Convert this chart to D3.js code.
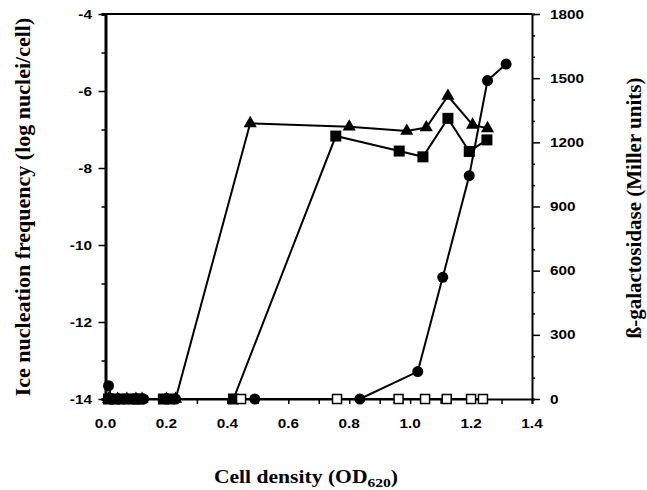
<!DOCTYPE html>
<html><head><meta charset="utf-8">
<script src="https://cdn.jsdelivr.net/npm/d3@7"></script>
<style>body{margin:0;background:#fff}</style>
</head><body>
<svg id="c" width="647" height="490"></svg>
<script>
// Ice nucleation frequency (left axis, log nuclei/cell)
const triX = [0.01,0.04,0.07,0.10,0.12,0.20,0.23,0.475,0.80,0.989,1.053,1.124,1.205,1.254];
const triY = [-14,-14,-14,-14,-14,-14,-14,-6.84,-6.93,-7.04,-6.95,-6.13,-6.88,-6.97];
const sqX  = [0.01,0.03,0.06,0.09,0.11,0.19,0.21,0.42,0.756,0.964,1.042,1.124,1.194,1.252];
const sqY  = [-14,-14,-14,-14,-14,-14,-14,-14,-7.17,-7.56,-7.71,-6.71,-7.57,-7.27];
// beta-galactosidase (right axis, Miller units)
const cirX = [0.01,0.02,0.04,0.06,0.09,0.11,0.125,0.23,0.49,0.835,1.025,1.107,1.194,1.254,1.315];
const cirY = [62,0,0,0,0,0,0,0,0,0,128,569,1044,1489,1566];
const osqX = [0.445,0.76,0.962,1.049,1.12,1.20,1.239];
const osqY = [0,0,0,0,0,0,0];
const xTicks = [0,0.2,0.4,0.6,0.8,1.0,1.2,1.4];
const yLTicks = [-4,-6,-8,-10,-12,-14];
const yRTicks = [0,300,600,900,1200,1500,1800];

const svg = d3.select("#c");
const L=105.5, R=532, T=14, B=399;
const x = d3.scaleLinear().domain([0,1.4]).range([L,R]);
const yl = d3.scaleLinear().domain([-14,-4]).range([B,T]);
const yr = d3.scaleLinear().domain([0,1800]).range([B,T]);
const sans = "Arial, Liberation Sans, sans-serif";
const SX = 1.18;

// frame
svg.append("line").attr("x1",L).attr("x2",R).attr("y1",T).attr("y2",T).attr("stroke","#000").attr("stroke-width",2);

// x axis
const gx = svg.append("g").attr("transform",`translate(0,${B})`)
  .call(d3.axisBottom(x).tickValues(d3.range(0,1.41,0.1)).tickSize(5).tickFormat(""));
gx.select(".domain").attr("stroke-width",2);
gx.selectAll(".tick line").attr("stroke-width",1.5);
svg.append("g").selectAll("text").data(xTicks).join("text")
  .attr("transform",d=>`translate(${x(d)},428) scale(${SX},1)`).attr("text-anchor","middle")
  .attr("font-family",sans).attr("font-weight","bold").attr("font-size",13)
  .text(d=>d.toFixed(1));

// left axis
const gl = svg.append("g").attr("transform",`translate(${L},0)`)
  .call(d3.axisLeft(yl).tickValues(d3.range(-14,-3.9,1)).tickSize(4).tickFormat(""));
gl.select(".domain").attr("stroke-width",3);
gl.selectAll(".tick line").attr("stroke-width",1.5);
gl.selectAll(".tick").filter(d=>d%2===0).select("line").attr("x2",-7);
svg.append("g").selectAll("text").data(yLTicks).join("text")
  .attr("transform",d=>`translate(92,${yl(d)+4.5}) scale(${SX},1)`).attr("text-anchor","end")
  .attr("font-family",sans).attr("font-weight","bold").attr("font-size",13)
  .text(d=>d);

// right axis
const gr = svg.append("g").attr("transform",`translate(${R},0)`)
  .call(d3.axisRight(yr).tickValues(d3.range(0,1801,100)).tickSize(3).tickFormat(""));
gr.select(".domain").attr("stroke-width",2);
gr.selectAll(".tick line").attr("stroke-width",1.5);
gr.selectAll(".tick").filter(d=>d%300===0).select("line").attr("x2",8);
svg.append("g").selectAll("text").data(yRTicks).join("text")
  .attr("transform",d=>`translate(550,${yr(d)+4.5}) scale(${SX},1)`).attr("text-anchor","start")
  .attr("font-family",sans).attr("font-weight","bold").attr("font-size",13)
  .text(d=>d);

// lines
const lineL = d3.line().x(d=>x(d[0])).y(d=>yl(d[1]));
const lineR = d3.line().x(d=>x(d[0])).y(d=>yr(d[1]));
const tri = triX.map((v,i)=>[v,triY[i]]);
const sq = sqX.map((v,i)=>[v,sqY[i]]);
const cir = cirX.map((v,i)=>[v,cirY[i]]);
const osq = osqX.map((v,i)=>[v,osqY[i]]);
[[tri,lineL],[sq,lineL],[cir,lineR],[osq,lineR]].forEach(([d,l])=>{
  svg.append("path").attr("d",l(d)).attr("fill","none").attr("stroke","#000").attr("stroke-width",2);
});

// markers
svg.append("g").selectAll("path").data(tri).join("path")
  .attr("d",d3.symbol(d3.symbolTriangle,75)())
  .attr("transform",d=>`translate(${x(d[0])},${yl(d[1])})`).attr("fill","#000");
svg.append("g").selectAll("rect").data(sq).join("rect")
  .attr("x",d=>x(d[0])-5.5).attr("y",d=>yl(d[1])-5.5).attr("width",11).attr("height",11).attr("fill","#000");
svg.append("g").selectAll("circle").data(cir).join("circle")
  .attr("cx",d=>x(d[0])).attr("cy",d=>yr(d[1])).attr("r",5.5).attr("fill","#000");
svg.append("g").selectAll("rect").data(osq).join("rect")
  .attr("x",d=>x(d[0])-4.5).attr("y",d=>yr(d[1])-4.5).attr("width",9).attr("height",9)
  .attr("fill","#fff").attr("stroke","#000").attr("stroke-width",1.5);

// axis titles
const serif = "Times New Roman, Liberation Serif, serif";
svg.append("text").attr("transform","translate(30,207) rotate(-90)").attr("text-anchor","middle")
  .attr("font-family",serif).attr("font-weight","bold").attr("font-size",22)
  .text("Ice nucleation frequency (log nuclei/cell)");
svg.append("text").attr("transform","translate(641,208) rotate(-90)").attr("text-anchor","middle")
  .attr("font-family",serif).attr("font-weight","bold").attr("font-size",21)
  .text("ß-galactosidase (Miller units)");
const xt = svg.append("text").attr("transform",`translate(306,483) scale(1.2,1)`).attr("text-anchor","middle")
  .attr("font-family",serif).attr("font-weight","bold").attr("font-size",18);
xt.append("tspan").text("Cell density (OD");
xt.append("tspan").attr("font-size",13).attr("dy",4).text("620");
xt.append("tspan").attr("dy",-4).text(")");
</script>
</body></html>
